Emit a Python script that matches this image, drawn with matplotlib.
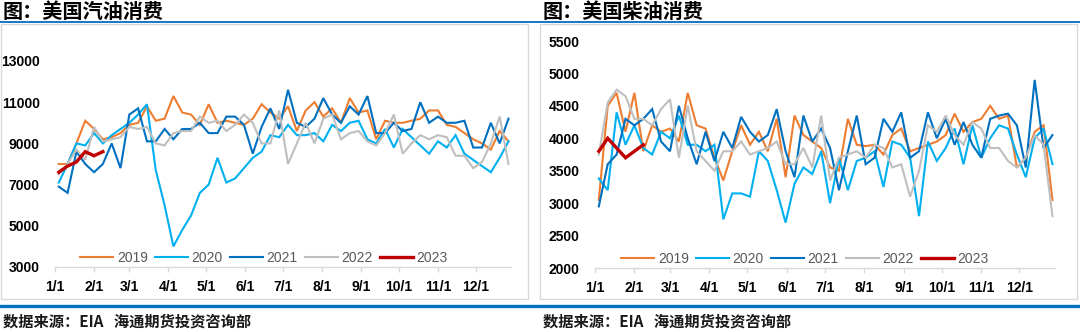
import matplotlib
matplotlib.use("Agg")
import matplotlib.pyplot as plt
from matplotlib.patches import Rectangle
from matplotlib.lines import Line2D

plt.rcParams['font.family'] = ['Noto Sans CJK SC', 'DejaVu Sans']

# ---------------- data ----------------
years = ["2019", "2020", "2021", "2022", "2023"]
colors = ["#ED7D31", "#00B0F0", "#0070C0", "#BFBFBF", "#C00000"]
month_ticks = [0, 31, 59, 90, 120, 151, 181, 212, 243, 273, 304, 334]
month_labels = ["1/1", "2/1", "3/1", "4/1", "5/1", "6/1", "7/1", "8/1",
                "9/1", "10/1", "11/1", "12/1"]

gas_2019 = [8000, 8000, 9000, 10100, 9700, 9200, 9300, 9500, 9900, 10000,
            10800, 10100, 10200, 11300, 10500, 10400, 9900, 10900, 10000, 10100,
            10000, 9900, 10200, 10900, 10500, 10200, 10800, 9600, 10600, 11000,
            10300, 10700, 10000, 11200, 10500, 10600, 9200, 10100, 10000, 10000,
            10100, 10200, 10600, 10600, 9900, 9800, 9500, 9200, 9000, 8700,
            9600, 9100]
gas_2020 = [7100, 8000, 9000, 8900, 9500, 9000, 9400, 9700, 10000, 10400,
            10900, 7700, 6000, 4000, 4800, 5500, 6600, 7000, 8300, 7100,
            7300, 7800, 8300, 8600, 9400, 9300, 9900, 9400, 9400, 9500,
            9100, 9900, 9600, 10000, 10100, 9200, 9000, 9700, 8800, 9700,
            9300, 8900, 8500, 9100, 8800, 9400, 8500, 8200, 7900, 7600,
            8300, 9100]
gas_2021 = [6900, 6600, 8600, 8000, 7600, 8000, 9000, 7800, 10400, 10700,
            9100, 9100, 9700, 9200, 9700, 9700, 10000, 9500, 9500, 10300,
            10300, 9900, 8500, 9800, 10700, 9700, 11600, 10000, 9800, 10200,
            11200, 10400, 10000, 10800, 10400, 11300, 9500, 9500, 10000, 9600,
            9700, 11000, 10000, 10300, 10000, 10000, 10100, 8800, 8800, 10000,
            9000, 10200]
gas_2022 = [7500, 8000, 8700, 8200, 9800, 9100, 9200, 9300, 9800, 9700,
            9800, 9000, 8900, 9500, 9600, 9600, 10300, 10000, 10100, 9600,
            9900, 10400, 10000, 9000, 9000, 10600, 8000, 9000, 10000, 9000,
            10200, 10400, 9200, 9500, 9600, 9100, 8900, 9500, 10400, 8500,
            9000, 9400, 9200, 9400, 9300, 8400, 8400, 7800, 8100, 9000,
            10300, 8000]
gas_2023 = [7600, 7900, 8100, 8600, 8400, 8600]

dsl_2019 = [3050, 4500, 4700, 4100, 4700, 3800, 4200, 4100, 4150, 3950,
            4700, 4200, 4150, 3700, 3350, 3800, 4200, 3900, 4100, 3800,
            4300, 3400, 4350, 4050, 3950, 3850, 3550, 3500, 4300, 3900,
            3880, 3900, 3750, 4050, 4150, 3800, 3850, 3900, 3950, 4050,
            4380, 4100, 4250, 4300, 4500, 4300, 4350, 3550, 3700, 4100,
            4200, 3050]
dsl_2020 = [3380, 3200, 4400, 3900, 4200, 3850, 3750, 4100, 4000, 4350,
            3900, 3900, 3800, 3900, 2750, 3150, 3150, 3100, 3800, 3650,
            3200, 2700, 3300, 3550, 3450, 3800, 3000, 3700, 3200, 3650,
            3700, 3800, 3250, 3950, 3900, 3700, 2800, 3950, 3650, 3850,
            4150, 3600, 4200, 3700, 4000, 4200, 4150, 3750, 3400, 4000,
            4150, 3600]
dsl_2021 = [2950, 3600, 3750, 4300, 4200, 4300, 4450, 3950, 3800, 4500,
            4000, 3600, 4100, 3650, 4100, 3850, 4330, 4100, 3950, 4050,
            4450, 3800, 3400, 4350, 3950, 4150, 3850, 3200, 3800, 4350,
            3600, 3700, 4300, 4100, 4400, 3700, 3800, 4400, 4000, 4300,
            3900, 4250, 3900, 3700, 4300, 4350, 4380, 4200, 3550, 4900,
            3850, 4050]
dsl_2022 = [3750, 4550, 4750, 4650, 4300, 4300, 4200, 4450, 4600, 3700,
            4500, 3800, 3650, 3500, 3800, 3800, 3950, 3750, 3800, 3850,
            3950, 3600, 3600, 3850, 3550, 4350, 3350, 3700, 3750, 3800,
            3700, 3900, 3850, 3550, 3600, 3100, 3500, 4200, 4100, 4350,
            4050, 3900, 4250, 4150, 3850, 3850, 3650, 3550, 3700, 4050,
            3900, 2800]
dsl_2023 = [3800, 4000, 3850, 3700, 3800, 3900]

gas_series = [gas_2019, gas_2020, gas_2021, gas_2022, gas_2023]
dsl_series = [dsl_2019, dsl_2020, dsl_2021, dsl_2022, dsl_2023]

# ---------------- figure ----------------
W, H = 1080, 332
fig = plt.figure(figsize=(W / 100, H / 100), dpi=100)


def fx(px):
    return px / W


def fy(py):
    return 1 - py / H


BLUE = "#0070C0"
GRID = "#D9D9D9"

# frames
for x0, x1 in [(1, 528), (540, 1077)]:
    fig.patches.append(Rectangle((fx(x0), fy(299)), fx(x1 - x0), (299 - 24) / H,
                                 transform=fig.transFigure, fill=False,
                                 edgecolor=GRID, lw=1.0, zorder=0))
# blue rules
fig.lines.append(Line2D([0, 1], [fy(22), fy(22)], transform=fig.transFigure,
                        color=BLUE, lw=1.3))
fig.lines.append(Line2D([0, 1], [fy(305.5), fy(305.5)], transform=fig.transFigure,
                        color=BLUE, lw=2.4))

tick_font = dict(family=['Liberation Sans'], weight='bold', size=10)


def make_panel(left_px, right_px, bottom_px, top_px, series, ylim, yticks,
               title, title_x, legend_cx, legend_cy):
    ax = fig.add_axes([fx(left_px), fy(bottom_px), fx(right_px - left_px),
                       (bottom_px - top_px) / H])
    lws = [1.5, 1.5, 1.5, 1.5, 2.4]
    for yr, col, vals, lw in zip(years, colors, series, lws):
        xs = [3 + 7 * i for i in range(len(vals))]
        ax.plot(xs, vals, color=col, lw=lw, label=yr, solid_joinstyle='miter')
    ax.set_xlim(0, 362)
    ax.set_ylim(*ylim)
    ax.set_yticks(yticks)
    ax.set_yticklabels([str(v) for v in yticks], **tick_font)
    ax.set_xticks(month_ticks)
    ax.set_xticklabels(month_labels, **tick_font)
    for s in ["top", "right", "left"]:
        ax.spines[s].set_visible(False)
    ax.spines["bottom"].set_color(GRID)
    ax.spines["bottom"].set_linewidth(1.0)
    ax.tick_params(axis='y', length=0, pad=11)
    ax.tick_params(axis='x', length=3.5, color=GRID, width=1.0, pad=6,
                   direction='out')
    ax.patch.set_alpha(0)
    leg = fig.legend(*ax.get_legend_handles_labels(), loc='center',
                     bbox_to_anchor=(fx(legend_cx), fy(legend_cy)),
                     ncol=5, frameon=False, handlelength=2.4,
                     handletextpad=0.25, columnspacing=0.5,
                     prop=dict(family=['Liberation Sans'], size=10))
    for t in leg.get_texts():
        t.set_color("#595959")
    fig.text(fx(title_x), fy(11), title, ha='left', va='center',
             fontsize=14.5, fontweight='bold', color='#000000')
    fig.text(fx(title_x), fy(322), "数据来源：EIA   海通期货投资咨询部",
             ha='left', va='center', fontsize=11, fontweight='bold',
             color='#1a1a1a')
    return ax


make_panel(55, 511, 267, 61, gas_series, (3000, 13000),
           [3000, 5000, 7000, 9000, 11000, 13000],
           "图：美国汽油消费", 3, 264, 258)
make_panel(595, 1055, 268, 41, dsl_series, (2000, 5500),
           [2000, 2500, 3000, 3500, 4000, 4500, 5000, 5500],
           "图：美国柴油消费", 543, 805, 259)

fig.savefig("out.png", dpi=100)
